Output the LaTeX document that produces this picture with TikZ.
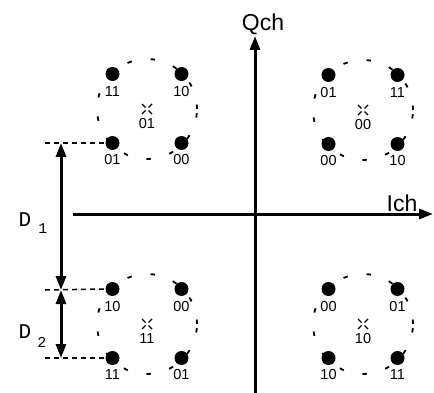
\documentclass[tikz,border=0pt]{standalone}
\usepackage{fontspec}
\setmainfont{Liberation Sans}
\newfontfamily\monofnt{Liberation Mono}
\usetikzlibrary{arrows.meta,calc}
\tikzset{
  axisline/.style={line width=3pt,-{Triangle[length=14pt,width=10pt]}},
  darrow/.style={line width=3pt,{Triangle[length=14pt,width=10pt]}-{Triangle[length=14pt,width=10pt]}},
  guide/.style={line width=1.5pt,dash pattern=on 5pt off 4pt},
  ring/.style={line width=1.8pt,dash pattern=on 4.5pt off 19pt},
  pt/.style={circle,fill=black,inner sep=0pt,minimum size=14pt},
  bits/.style={font=\fontsize{14.5}{15}\selectfont,inner sep=0pt},
  axlab/.style={font=\fontsize{23}{25}\selectfont,inner sep=0pt},
  dlab/.style={font=\monofnt\fontsize{21}{22}\selectfont,inner sep=0pt},
  dsub/.style={font=\monofnt\fontsize{15}{16}\selectfont,inner sep=0pt},
  crossline/.style={line width=1.2pt}
}
\newcommand{\cluster}[6]{%
  \draw[ring] (#2,#3) circle[radius=50pt];
  \node[pt] (#1ul) at ({#2-34.5},{#3-35}) {};
  \node[pt] (#1ur) at ({#2+34.5},{#3-35}) {};
  \node[pt] (#1ll) at ({#2-34.5},{#3+34}) {};
  \node[pt] (#1lr) at ({#2+34.5},{#3+34}) {};
  \node[bits] (#1ult) at ({#2-34.5},{#3-17}) {#4};
  \node[bits] (#1urt) at ({#2+34.5},{#3-17}) {#5};
  \coordinate (#1c) at (#2,#3);
  \draw[crossline] ($(#1c)+(-1.5,-1.5)$) -- ($(#1c)+(-5,-5)$);
  \draw[crossline] ($(#1c)+(1.5,-1.5)$) -- ($(#1c)+(5,-5)$);
  \draw[crossline] ($(#1c)+(-1.5,1.5)$) -- ($(#1c)+(-5,5)$);
  \draw[crossline] ($(#1c)+(1.5,1.5)$) -- ($(#1c)+(5,5)$);
  #6
}
\begin{document}
\begin{tikzpicture}[x=1pt,y=-1pt]
\useasboundingbox (0,0) rectangle (434,393);
% axes
\coordinate (xs) at (73,214);
\coordinate (xe) at (433,214);
\coordinate (ys) at (255,393);
\coordinate (ye) at (255,36);
\draw[axisline] (xs) -- (xe);
\draw[axisline] (ys) -- (ye);
\node[axlab] (qch) at (263,24) {Qch};
\node[axlab] (ich) at (402,203) {Ich};
% clusters
\cluster{a}{147}{109}{11}{10}{%
  \node[bits] (allt) at (112.5,160) {01};
  \node[bits] (alrt) at (181.5,160) {00};
  \node[bits] (act) at (147,124) {01};}
\cluster{b}{363}{110}{01}{11}{%
  \node[bits] (bllt) at (328.5,161) {00};
  \node[bits] (blrt) at (397.5,161) {10};
  \node[bits] (bct) at (363,125) {00};}
\cluster{c}{147}{324}{10}{00}{%
  \node[bits] (cllt) at (112.5,375) {11};
  \node[bits] (clrt) at (181.5,375) {01};
  \node[bits] (cct) at (147,339) {11};}
\cluster{d}{363}{324}{00}{01}{%
  \node[bits] (dllt) at (328.5,375) {10};
  \node[bits] (dlrt) at (397.5,375) {11};
  \node[bits] (dct) at (363,339) {10};}
% distance guides
\coordinate (g1) at (45,143);
\coordinate (g2) at (45,290);
\coordinate (g3) at (45,358);
\draw[guide] (g1) -- (all.west);
\draw[guide] (g2) -- (cul.west);
\draw[guide] (g3) -- (cll.west);
\coordinate (m1) at (61,143);
\coordinate (m2) at (61,290);
\coordinate (m3) at (61,358);
\draw[darrow] (m1) -- (m2);
\draw[darrow] (m2) -- (m3);
\node[dlab] (d1) at (25,220) {D};
\node[dsub] (d1s) at (43,229) {1};
\node[dlab] (d2) at (25,332) {D};
\node[dsub] (d2s) at (42,342) {2};
\end{tikzpicture}
\end{document}
